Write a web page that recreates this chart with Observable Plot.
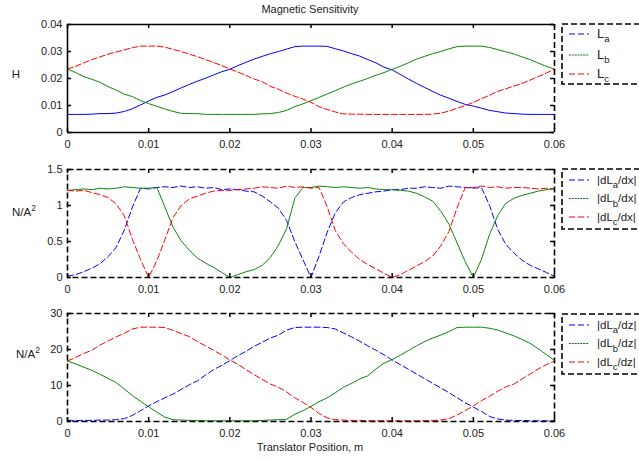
<!DOCTYPE html>
<html>
<head>
<meta charset="utf-8">
<script src="https://cdn.jsdelivr.net/npm/d3@7"></script>
<script src="https://cdn.jsdelivr.net/npm/@observablehq/plot@0.6"></script>
<style>
  body { margin: 0; background: white; }
  #wrap { position: relative; width: 639px; height: 460px; overflow: hidden; background: white; }
  #wrap svg { position: absolute; left: 0; overflow: hidden; }
</style>
</head>
<body>
<div id="wrap"></div>
<script>
// ---- data ----
const positions = [0,.001,.002,.003,.004,.005,.006,.007,.008,.009,.010,.011,.012,.013,.014,.015,.016,.017,.018,.019,.020,
  .021,.022,.023,.024,.025,.026,.027,.028,.029,.030,.031,.032,.033,.034,.035,.036,.037,.038,.039,.040,
  .041,.042,.043,.044,.045,.046,.047,.048,.049,.050,.051,.052,.053,.054,.055,.056,.057,.058,.059,.060];
const xTicks = [0, 0.01, 0.02, 0.03, 0.04, 0.05, 0.06];
const xTickLabels = ["0", "0.01", "0.02", "0.03", "0.04", "0.05", "0.06"];

// Panel 1: inductance (H)
const La = [.0067,.0067,.0067,.0068,.0070,.0070,.0072,.0078,.0088,.0102,.0117,.0130,.0139,.0152,.0165,.0178,.0190,.0201,.0213,.0225,.0234,
  .0248,.0260,.0272,.0282,.0292,.0300,.0309,.0318,.0320,.0320,.0320,.0319,.0310,.0302,.0292,.0283,.0270,.0258,.0242,.0232,
  .0215,.0198,.0182,.0167,.0152,.0138,.0127,.0115,.0104,.0098,.0090,.0082,.0077,.0072,.0070,.0068,.0067,.0067,.0067,.0067];
const Lb = [.0235,.0222,.0207,.0197,.0186,.0170,.0157,.0142,.0133,.0118,.0107,.0097,.0087,.0078,.0071,.0070,.0070,.0067,.0067,.0067,.0067,
  .0067,.0067,.0067,.0069,.0070,.0074,.0082,.0096,.0106,.0118,.0130,.0143,.0155,.0168,.0180,.0190,.0200,.0212,.0222,.0234,
  .0245,.0258,.0272,.0282,.0292,.0300,.0310,.0318,.0320,.0320,.0320,.0315,.0307,.0299,.0291,.0280,.0270,.0257,.0245,.0235];
const Lc = [.0235,.0245,.0258,.0270,.0280,.0290,.0298,.0306,.0314,.0320,.0320,.0320,.0316,.0308,.0300,.0290,.0281,.0270,.0259,.0248,.0235,
  .0224,.0211,.0198,.0188,.0171,.0160,.0146,.0134,.0124,.0112,.0095,.0085,.0076,.0069,.0068,.0068,.0067,.0067,.0067,.0067,
  .0067,.0067,.0067,.0067,.0068,.0072,.0079,.0090,.0100,.0111,.0125,.0138,.0152,.0162,.0172,.0182,.0194,.0207,.0220,.0235];

// Panel 2: |dL/dx|
const dLa_dx = [0.02,0.04,0.08,0.13,0.19,0.29,0.42,0.66,0.98,1.24,1.23,1.25,1.26,1.25,1.27,1.25,1.26,1.24,1.25,1.22,1.23,
  1.22,1.20,1.19,1.13,1.05,0.96,0.79,0.50,0.25,0.00,0.30,0.63,0.90,1.05,1.11,1.15,1.17,1.19,1.20,1.22,
  1.22,1.24,1.24,1.26,1.25,1.24,1.27,1.26,1.25,1.24,1.25,1.00,0.67,0.46,0.34,0.24,0.17,0.12,0.07,0.02];
const dLb_dx = [1.21,1.22,1.23,1.22,1.24,1.23,1.24,1.26,1.25,1.24,1.24,1.25,0.98,0.70,0.51,0.38,0.27,0.20,0.14,0.07,0.00,
  0.04,0.08,0.11,0.17,0.28,0.45,0.68,1.10,1.25,1.25,1.27,1.26,1.25,1.26,1.25,1.24,1.25,1.23,1.22,1.22,
  1.21,1.20,1.17,1.12,1.06,0.92,0.74,0.48,0.22,0.00,0.25,0.60,0.86,1.03,1.10,1.14,1.17,1.20,1.22,1.23];
const dLc_dx = [1.21,1.20,1.21,1.18,1.15,1.11,1.02,0.86,0.53,0.25,0.00,0.23,0.53,0.83,1.00,1.09,1.13,1.17,1.20,1.21,1.21,
  1.22,1.23,1.24,1.26,1.25,1.24,1.27,1.25,1.26,1.24,1.25,0.98,0.65,0.47,0.35,0.25,0.18,0.12,0.06,0.00,
  0.04,0.10,0.16,0.22,0.30,0.44,0.64,0.97,1.25,1.25,1.27,1.25,1.26,1.24,1.25,1.25,1.24,1.23,1.24,1.23];

// Panel 3: |dL/dz|
const dLa_dz = [0.3,0.3,0.3,0.3,0.4,0.4,0.5,0.8,1.7,3.0,4.3,5.5,6.6,7.6,8.9,10.2,11.3,12.9,14.4,15.6,16.9,
  18.3,19.5,20.9,22.0,23.2,24.0,25.4,26.1,26.2,26.2,26.2,26.1,25.7,24.6,23.5,22.3,21.0,19.8,18.5,17.1,
  15.8,14.5,13.2,11.9,10.6,9.3,8.0,6.6,5.2,4.0,2.8,1.4,0.7,0.4,0.3,0.3,0.2,0.2,0.2,0.2];
const dLb_dz = [16.8,16.0,15.1,14.2,13.1,12.0,10.8,9.0,7.2,5.6,4.1,2.6,1.2,0.5,0.4,0.3,0.3,0.2,0.2,0.2,0.2,
  0.2,0.2,0.2,0.3,0.4,0.5,0.6,2.0,3.0,4.2,5.5,6.6,8.0,9.5,10.6,11.8,12.7,14.6,16.2,17.2,
  18.4,19.7,21.0,22.2,23.2,24.0,25.0,26.1,26.2,26.2,26.2,25.9,25.4,24.6,23.8,22.8,21.7,20.2,18.6,17.0];
const dLc_dz = [16.8,17.8,18.9,19.8,21.2,22.4,23.5,24.5,25.7,26.2,26.2,26.2,26.1,25.3,24.4,23.6,22.2,21.0,19.8,18.5,17.1,
  15.9,14.4,13.0,11.7,10.4,9.5,8.2,6.6,5.3,3.9,2.2,1.0,0.5,0.4,0.3,0.3,0.2,0.2,0.2,0.2,
  0.2,0.2,0.2,0.2,0.3,0.4,0.8,1.8,3.0,4.3,5.8,7.0,8.4,9.6,10.4,11.8,13.2,14.6,15.8,16.8];

const y1Ticks = [0, 0.01, 0.02, 0.03, 0.04], y1Labels = ["0", "0.01", "0.02", "0.03", "0.04"];
const y2Ticks = [0, 0.5, 1, 1.5], y2Labels = ["0", "0.5", "1", "1.5"];
const y3Ticks = [0, 10, 20, 30], y3Labels = ["0", "10", "20", "30"];

const colors = ["#0000ff", "#008000", "#ff0000"];
const FONT = "'Liberation Sans', Arial, Helvetica, sans-serif";

// ---- layout ----
const W = 639, ML = 67, MR = 85, PH = 108;
const PW = W - ML - MR;

function panel(cfg) {
  const {series, dashes, yDomain, yTicks, yLabels, height, mt, top, solidFrame, legend, ylabel} = cfg;
  const mb = height - mt - PH;
  const marks = [];
  series.forEach((s, k) => {
    marks.push(Plot.line(s, {x: (d, i) => positions[i], y: d => d, stroke: colors[k], strokeWidth: 1,
      strokeDasharray: dashes[k], strokeLinejoin: "round"}));
  });
  // frame
  if (solidFrame) {
    marks.push(Plot.ruleY([yDomain[0], yDomain[1]], {stroke: "black", strokeWidth: 1.6}));
    marks.push(Plot.ruleX([0], {stroke: "black", strokeWidth: 1.6}));
    marks.push(Plot.ruleX([0.06], {stroke: "black", strokeWidth: 1.6, strokeDasharray: "6,3"}));
  } else {
    marks.push(Plot.frame({stroke: "black", strokeWidth: 1.6, strokeDasharray: "6,3"}));
  }
  // inward ticks
  marks.push(Plot.tickX(xTicks, {x: d => d, insetTop: PH - 4, stroke: "black", strokeWidth: 1.5}));
  marks.push(Plot.tickX(xTicks, {x: d => d, insetBottom: PH - 4, stroke: "black", strokeWidth: 1.5}));
  marks.push(Plot.tickY(yTicks, {y: d => d, insetRight: PW - 4, stroke: "black", strokeWidth: 1.5}));
  marks.push(Plot.tickY(yTicks, {y: d => d, insetLeft: PW - 4, stroke: "black", strokeWidth: 1.5}));
  // axes
  marks.push(Plot.axisX(xTicks, {tickSize: 0, tickPadding: 8, tickFormat: (d, i) => xTickLabels[i], label: null, fontSize: 11, fill: "#222"}));
  marks.push(Plot.axisY(yTicks, {tickSize: 0, tickPadding: 5, tickFormat: (d, i) => yLabels[i], label: null, fontSize: 11, fill: "#222"}));

  const svg = Plot.plot({
    width: W, height, marginLeft: ML, marginRight: MR, marginTop: mt, marginBottom: mb,
    x: {domain: [0, 0.06]},
    y: {domain: yDomain},
    style: {fontFamily: FONT, fontSize: "11px", background: "white", overflow: "hidden"},
    marks
  });
  svg.style.top = top + "px";
  const g = d3.select(svg);

  // y label
  const yl = g.append("text").attr("font-family", FONT).attr("font-size", 11.5).attr("fill", "#222")
    .attr("x", ylabel.x).attr("y", ylabel.y).attr("text-anchor", "middle").attr("dominant-baseline", "middle");
  yl.append("tspan").text(ylabel.main);
  if (ylabel.sup) yl.append("tspan").attr("font-size", 8.5).attr("dy", -4).text(ylabel.sup);

  // legend
  const lg = g.append("g").attr("text-anchor", "start");
  lg.append("rect").attr("x", 562).attr("y", legend.y0).attr("width", 120).attr("height", 60)
    .attr("fill", "white").attr("stroke", "black").attr("stroke-width", 1.6).attr("stroke-dasharray", "6,3");
  legend.entries.forEach((e, k) => {
    const yy = legend.ys[k];
    lg.append("line").attr("x1", 569).attr("x2", 589).attr("y1", yy).attr("y2", yy)
      .attr("stroke", colors[k]).attr("stroke-width", 1).attr("stroke-dasharray", legend.dashes[k]);
    const t = lg.append("text").attr("x", 597).attr("y", yy + 3.8).attr("font-family", FONT)
      .attr("text-anchor", "start").attr("font-size", legend.fs).attr("fill", "#222");
    t.append("tspan").text(e[0]);
    t.append("tspan").attr("font-size", 9.5).attr("dy", 4.6).text(e[1]);
    if (e[2]) t.append("tspan").attr("dy", -4.6).text(e[2]);
  });
  return {svg, g};
}

const wrap = document.getElementById("wrap");

const p1 = panel({
  series: [La, Lb, Lc], dashes: [null, "2,0.8", "6,2.5"],
  yDomain: [0, 0.04], yTicks: y1Ticks, yLabels: y1Labels,
  height: 150, mt: 24, top: 0, solidFrame: true,
  ylabel: {main: "H", x: 16, y: 75},
  legend: {y0: 24, fs: 13, ys: [34, 55, 74], dashes: ["6,3", "2,0.8", "6,3"],
    entries: [["L", "a"], ["L", "b"], ["L", "c"]]}
});
p1.g.append("text").attr("x", 310).attr("y", 10).attr("text-anchor", "middle").attr("dominant-baseline", "middle")
  .attr("font-family", FONT).attr("font-size", 11).attr("fill", "#222").text("Magnetic Sensitivity");
wrap.appendChild(p1.svg);

const p2 = panel({
  series: [dLa_dx, dLb_dx, dLc_dx], dashes: ["6,3", "2,0.8", "6,3"],
  yDomain: [0, 1.5], yTicks: y2Ticks, yLabels: y2Labels,
  height: 150, mt: 19, top: 150, solidFrame: false,
  ylabel: {main: "N/A", sup: "2", x: 24, y: 63},
  legend: {y0: 19, fs: 11.5, ys: [30, 48.5, 67], dashes: ["6,3", "2,0.8", "6,3"],
    entries: [["|dL", "a", "/dx|"], ["|dL", "b", "/dx|"], ["|dL", "c", "/dx|"]]}
});
wrap.appendChild(p2.svg);

const p3 = panel({
  series: [dLa_dz, dLb_dz, dLc_dz], dashes: ["6,3", "2,0.8", "6,3"],
  yDomain: [0, 30], yTicks: y3Ticks, yLabels: y3Labels,
  height: 160, mt: 13, top: 300, solidFrame: false,
  ylabel: {main: "N/A", sup: "2", x: 28, y: 55},
  legend: {y0: 14, fs: 11.5, ys: [25, 43.5, 62], dashes: ["6,3", "2,0.8", "6,3"],
    entries: [["|dL", "a", "/dz|"], ["|dL", "b", "/dz|"], ["|dL", "c", "/dz|"]]}
});
p3.g.append("text").attr("x", 310).attr("y", 148).attr("text-anchor", "middle").attr("dominant-baseline", "middle")
  .attr("font-family", FONT).attr("font-size", 11).attr("fill", "#222").text("Translator Position, m");
wrap.appendChild(p3.svg);
</script>
</body>
</html>
